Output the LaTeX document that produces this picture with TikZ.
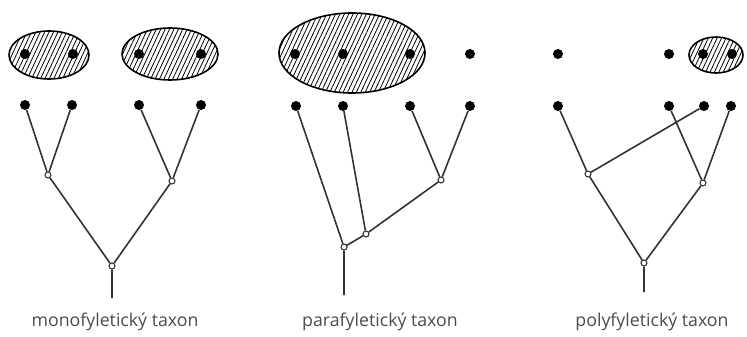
\documentclass[tikz,border=0pt]{standalone}
\usepackage{fontspec}
\setmainfont{Open Sans}
\usetikzlibrary{patterns.meta}
\definecolor{linegray}{rgb}{0.2,0.2,0.2}
\definecolor{textgray}{rgb}{0.3,0.3,0.3}

\begin{document}
\begin{tikzpicture}[x=0.75pt, y=-0.75pt,
    leaf/.style={circle, fill=black, inner sep=0pt, minimum size=7.5pt},
    fork/.style={circle, draw=linegray, fill=white, thick, inner sep=0pt, minimum size=4.5pt},
    taxon/.style={draw=black, very thick, pattern={Lines[angle=65,distance=3pt,line width=0.6pt]}},
    edge/.style={draw=linegray, line width=1.2pt},
    caption/.style={text=textgray, font=\fontsize{13.3}{15}\selectfont}]
    \useasboundingbox (0,0) rectangle (747,336);

    % Taxa (hatched groups)
    \draw[taxon] (49,55) ellipse (40 and 24);
    \draw[taxon] (170,54) ellipse (48 and 26);
    \draw[taxon] (352,53) ellipse (73 and 40);
    \draw[taxon] (716,55) ellipse (27 and 18);

    % Top row of species
    \foreach \x in {25,73,139,201,295,343,410,470,558,669,703,732}
        \node[leaf] at (\x,54) {};

    % Monophyletic tree
    \node[leaf] (m1) at (25,105) {};
    \node[leaf] (m2) at (72,105) {};
    \node[leaf] (m3) at (139,105) {};
    \node[leaf] (m4) at (201,105) {};
    \node[fork] (mL) at (48,175) {};
    \node[fork] (mR) at (172,181) {};
    \node[fork] (mO) at (112,266) {};
    \coordinate (mS) at (112,298);
    \draw[edge] (m1) -- (mL) (m2) -- (mL) (m3) -- (mR) (m4) -- (mR);
    \draw[edge] (mL) -- (mO) (mR) -- (mO) (mO) -- (mS);
    \node[caption] (mT) at (115,322) {monofyletický taxon};

    % Paraphyletic tree
    \node[leaf] (p1) at (296,106) {};
    \node[leaf] (p2) at (343,106) {};
    \node[leaf] (p3) at (410,106) {};
    \node[leaf] (p4) at (470,106) {};
    \node[fork] (pA) at (441,180) {};
    \node[fork] (pB) at (366,234) {};
    \node[fork] (pO) at (344,247) {};
    \coordinate (pS) at (344,295);
    \draw[edge] (p1) -- (pO) (p2) -- (pB) (p3) -- (pA) (p4) -- (pA);
    \draw[edge] (pA) -- (pB) (pB) -- (pO) (pO) -- (pS);
    \node[caption] (pT) at (380,322) {parafyletický taxon};

    % Polyphyletic tree
    \node[leaf] (q1) at (558,106) {};
    \node[leaf] (q2) at (669,106) {};
    \node[leaf] (q3) at (704,106) {};
    \node[leaf] (q4) at (731,106) {};
    \node[fork] (qL) at (588,174) {};
    \node[fork] (qR) at (703,183) {};
    \node[fork] (qO) at (644,263) {};
    \coordinate (qS) at (644,292);
    \draw[edge] (q1) -- (qL) (q3) -- (qL) (q2) -- (qR) (q4) -- (qR);
    \draw[edge] (qL) -- (qO) (qR) -- (qO) (qO) -- (qS);
    \node[caption] (qT) at (652,322) {polyfyletický taxon};
\end{tikzpicture}
\end{document}
